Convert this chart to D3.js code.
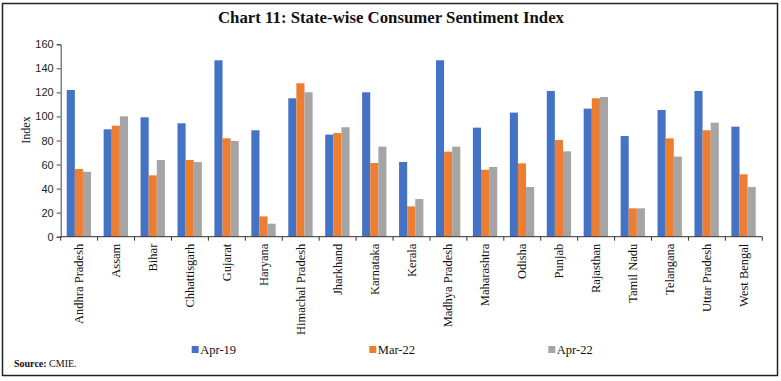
<!DOCTYPE html>
<html>
<head>
<meta charset="utf-8">
<script src="https://cdn.jsdelivr.net/npm/d3@7"></script>
<style>
  body { margin: 0; background: #fff; }
  svg { display: block; }
  .tick text { fill: #222; }
</style>
</head>
<body>
<svg id="chart" width="781" height="381"></svg>
<script>
const states = ["Andhra Pradesh", "Assam", "Bihar", "Chhattisgarh", "Gujarat", "Haryana",
  "Himachal Pradesh", "Jharkhand", "Karnataka", "Kerala", "Madhya Pradesh", "Maharashtra",
  "Odisha", "Punjab", "Rajasthan", "Tamil Nadu", "Telangana", "Uttar Pradesh", "West Bengal"];
const seriesNames = ["Apr-19", "Mar-22", "Apr-22"];
const apr19 = [122, 89.3, 99.3, 94.3, 146.7, 88.5, 115.1, 84.9, 120.1, 62.1, 146.7, 90.7, 103.2, 121.2, 106.5, 83.7, 105.4, 121.2, 91.5];
const mar22 = [56.3, 92.3, 51, 63.8, 81.8, 16.9, 127.6, 86.2, 61.3, 25.2, 70.7, 55.7, 61, 80.4, 115.1, 23.6, 81.8, 88.5, 51.9];
const apr22 = [54, 100.1, 63.8, 62.1, 79.6, 10.8, 120.1, 91, 74.9, 31.3, 74.9, 58, 41.3, 71, 116.2, 23.6, 66.6, 94.8, 41.3];
const yTicks = [0, 20, 40, 60, 80, 100, 120, 140, 160];
const colors = ["#4472C4", "#ED7D31", "#A5A5A5"];

const values = [apr19, mar22, apr22];
const data = states.map((s, i) => ({
  state: s,
  vals: seriesNames.map((n, j) => ({ key: n, value: values[j][i] }))
}));

const svg = d3.select("#chart");
const serif = "'Liberation Serif', 'Times New Roman', serif";
const sans = "'Liberation Sans', Arial, sans-serif";

// frame
svg.append("rect")
  .attr("x", 2.5).attr("y", 3.5)
  .attr("width", 775).attr("height", 372)
  .attr("fill", "none").attr("stroke", "#222").attr("stroke-width", 1.5);

// title
svg.append("text")
  .attr("x", 391).attr("y", 23)
  .attr("text-anchor", "middle")
  .attr("font-family", serif).attr("font-weight", "bold").attr("font-size", 16.8)
  .attr("fill", "#111")
  .text("Chart 11: State-wise Consumer Sentiment Index");

const plotLeft = 60.7, plotRight = 762.3, plotTop = 44.3, plotBottom = 236.7;

const x0 = d3.scaleBand().domain(states).range([plotLeft, plotRight]).padding(0);
const bw = x0.bandwidth();
const x1 = d3.scaleBand().domain(seriesNames).range([bw * 0.163, bw * 0.822]).padding(0);
const y = d3.scaleLinear().domain([0, 160]).range([plotBottom, plotTop]);

// bars
const groups = svg.append("g").selectAll("g")
  .data(data)
  .enter()
  .append("g")
  .attr("transform", (d) => `translate(${x0(d.state)},0)`);

groups.selectAll("rect")
  .data((d) => d.vals)
  .enter()
  .append("rect")
  .attr("x", (d) => x1(d.key))
  .attr("y", (d) => y(d.value))
  .attr("width", x1.bandwidth())
  .attr("height", (d) => plotBottom - y(d.value))
  .attr("fill", (d, i) => colors[i]);

// y axis
const yAxisG = svg.append("g")
  .attr("transform", `translate(${plotLeft},0)`)
  .call(d3.axisLeft(y).tickValues(yTicks).tickSize(4).tickPadding(3));
yAxisG.selectAll("text").attr("font-family", sans).attr("font-size", 11);
yAxisG.selectAll("line, path").attr("stroke", "#444");

// x axis with ticks at band boundaries
const xAxisG = svg.append("g").attr("transform", `translate(0,${plotBottom})`);
xAxisG.append("line")
  .attr("x1", plotLeft).attr("x2", plotRight)
  .attr("stroke", "#333");
const bounds = states.map((s) => x0(s)).concat([plotRight]);
xAxisG.selectAll(".bt")
  .data(bounds)
  .enter()
  .append("line")
  .attr("x1", (d) => d).attr("x2", (d) => d)
  .attr("y1", 0).attr("y2", 4)
  .attr("stroke", "#333");

xAxisG.selectAll(".xl")
  .data(states)
  .enter()
  .append("text")
  .attr("transform", (d) => `translate(${x0(d) + bw / 2 + 4},7) rotate(-90)`)
  .attr("text-anchor", "end")
  .attr("font-family", serif).attr("font-size", 12.5)
  .attr("fill", "#111")
  .text((d) => d);

// y axis title
svg.append("text")
  .attr("transform", "translate(30,130) rotate(-90)")
  .attr("text-anchor", "middle")
  .attr("font-family", serif).attr("font-size", 12)
  .attr("fill", "#111")
  .text("Index");

// legend
const legendX = [191.7, 369.3, 548.3];
const legend = svg.append("g").selectAll("g")
  .data(seriesNames)
  .enter()
  .append("g")
  .attr("transform", (d, i) => `translate(${legendX[i]},346)`);
legend.append("rect")
  .attr("width", 7).attr("height", 7)
  .attr("fill", (d, i) => colors[i]);
legend.append("text")
  .attr("x", 8.5).attr("y", 7.5)
  .attr("font-family", serif).attr("font-size", 12.5)
  .attr("fill", "#111")
  .text((d) => d);

// source
const src = svg.append("text")
  .attr("x", 14).attr("y", 367)
  .attr("font-family", serif).attr("font-size", 10)
  .attr("fill", "#111");
src.append("tspan").attr("font-weight", "bold").text("Source: ");
src.append("tspan").text("CMIE.");
</script>
</body>
</html>
